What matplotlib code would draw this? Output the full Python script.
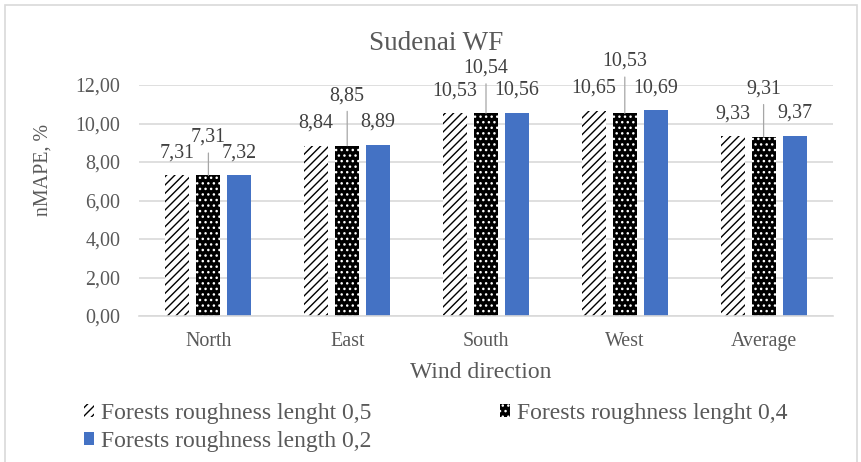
import matplotlib
matplotlib.use("Agg")
import matplotlib.pyplot as plt
import numpy as np
from matplotlib.patches import Rectangle

# ---- data -------------------------------------------------------------
categories = ["North", "East", "South", "West", "Average"]
rough_05 = [7.31, 8.84, 10.53, 10.65, 9.33]
rough_04 = [7.31, 8.85, 10.54, 10.53, 9.31]
rough_02 = [7.32, 8.89, 10.56, 10.69, 9.37]
series_labels = ["Forests roughness lenght 0,5",
                 "Forests roughness lenght 0,4",
                 "Forests roughness length 0,2"]
yticks = [0, 2, 4, 6, 8, 10, 12]

# ---- style ------------------------------------------------------------
plt.rcParams["font.family"] = ["Liberation Serif", "DejaVu Serif"]
plt.rcParams["hatch.linewidth"] = 1.0

TXT = "#595959"
LBL = "#404040"
GRID = "#D9D9D9"
BLUE = "#4472C4"

W, H, DPI = 862, 462, 100
fig = plt.figure(figsize=(W / DPI, H / DPI), dpi=DPI)
P2PT = 72 / DPI  # pixels -> points


def fx(x):
    return x / W


def fy(y):
    return 1 - y / H


def comma(v):
    return f"{v:.2f}".replace(".", ",")


# chart frame
fig.patches.append(Rectangle((fx(5), -0.05), fx(852), fy(5) + 0.05,
                             transform=fig.transFigure, fill=False,
                             edgecolor=GRID, linewidth=1.2))

ax = fig.add_axes([fx(139), fy(316), fx(694), 231 / H])

x = np.arange(len(categories))
off, bw = 0.223, 0.173
b1 = ax.bar(x - off, rough_05, bw, facecolor="white", edgecolor="black",
            linewidth=0, hatch="////", label=series_labels[0])
b2 = ax.bar(x, rough_04, bw, facecolor="black", edgecolor="white",
            linewidth=0, hatch="...", label=series_labels[1])
b3 = ax.bar(x + off, rough_02, bw, color=BLUE, linewidth=0,
            label=series_labels[2])

ax.set_xlim(-0.5, len(categories) - 0.5)
ax.set_ylim(0, 12)
ax.set_yticks(yticks, [comma(v) for v in yticks])
ax.set_xticks(x, categories)
ax.tick_params(axis="y", length=0, pad=13.5, labelsize=14.4, labelcolor=TXT)
ax.tick_params(axis="x", length=0, pad=11.5, labelsize=14.4, labelcolor=TXT)
ax.yaxis.grid(True, color=GRID, linewidth=1.2)
ax.set_axisbelow(True)
for s in ("top", "right", "left"):
    ax.spines[s].set_visible(False)
ax.spines["bottom"].set_color(GRID)
ax.spines["bottom"].set_linewidth(1.2)

# data labels (pixels above bar top); middle series raised with leader lines
normal_off = 22.5
raised_off = [38, 50, 45, 52, 48]
for bars, vals in ((b1, rough_05), (b3, rough_02)):
    for rect, v in zip(bars, vals):
        ax.annotate(comma(v), xy=(rect.get_x() + rect.get_width() / 2, v),
                    xytext=(0, normal_off * P2PT), textcoords="offset points",
                    ha="center", va="center", fontsize=14.4, color=LBL)
for rect, v, ro in zip(b2, rough_04, raised_off):
    ax.annotate(comma(v), xy=(rect.get_x() + rect.get_width() / 2, v),
                xytext=(0, ro * P2PT), textcoords="offset points",
                ha="center", va="center", fontsize=14.4, color=LBL,
                arrowprops=dict(arrowstyle="-", color="#A6A6A6", lw=0.9,
                                shrinkA=2.5, shrinkB=0, relpos=(0.5, 0)))

# titles
fig.text(fx(436), fy(44), "Sudenai WF", ha="center", va="center",
         fontsize=19.5, color=TXT)
fig.text(fx(43), fy(170), "nMAPE, %", ha="center", va="center",
         rotation=90, fontsize=14.4, color=TXT)
fig.text(fx(481), fy(373), "Wind direction", ha="center", va="center",
         fontsize=17, color=TXT)

# legend: first column holds 0,5 and 0,2, second column 0,4
fig.legend([b1, b3, b2],
           [series_labels[0], series_labels[2], series_labels[1]],
           loc="upper left", bbox_to_anchor=(fx(84), fy(403)),
           ncol=2, frameon=False, fontsize=17, labelcolor=TXT,
           handlelength=0.42, handleheight=0.42, handletextpad=0.3,
           columnspacing=5.45, labelspacing=0.29, borderpad=0,
           borderaxespad=0)

fig.savefig("out.png", dpi=DPI)
